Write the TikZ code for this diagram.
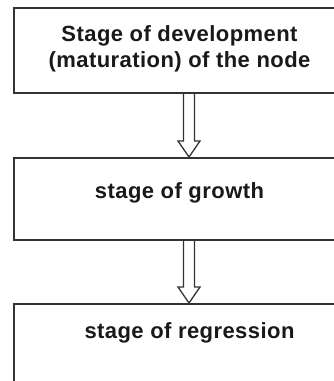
\documentclass[tikz,border=0pt]{standalone}
\usepackage{fontspec}
\setmainfont{Liberation Sans}
\usepackage{tikz}
\usetikzlibrary{positioning}
\usetikzlibrary{calc}
\definecolor{linegray}{rgb}{0.2,0.2,0.2}
\definecolor{textgray}{rgb}{0.1,0.1,0.1}

\tikzset{
  stagebox/.style={draw=linegray, line width=2pt, minimum width=331pt, inner sep=0pt},
  stagetext/.style={text=textgray, font=\bfseries\addfontfeature{LetterSpace=2}\fontsize{22}{26}\selectfont, align=center, inner sep=0pt},
  hollow/.style={draw=linegray, line width=1.3pt, fill=white}
}

\begin{document}
\begin{tikzpicture}[x=1pt,y=-1pt]
            \useasboundingbox (0,0) rectangle (334,381);
            \clip (0,0) rectangle (334,381);
            \node[stagebox, minimum height=85pt] (dev) at (179.5,50.5) {};
            \node[stagebox, minimum height=82pt, below=63pt of dev] (growth) {};
            \node[stagebox, minimum height=100pt, below=62pt of growth] (regr) {};
            \node[stagetext] (devtext) at ([yshift=2pt]dev.center) {Stage of development\\(maturation) of the node};
            \node[stagetext] (growthtext) at ([yshift=6pt]growth.center) {stage of growth};
            \node[stagetext] (regrtext) at ([yshift=-30pt,xshift=10pt]regr.north) {stage of regression};
            % hollow arrows between the stages
            \coordinate (a1) at ([xshift=9.5pt]dev.south);
            \coordinate (b1) at ([xshift=9.5pt]growth.north);
            \coordinate (a2) at ([xshift=9.5pt]growth.south);
            \coordinate (b2) at ([xshift=9.5pt]regr.north);
            \draw[hollow] ($(a1)+(-5.5,0)$) -- ($(b1)+(-5.5,-16)$) -- ($(b1)+(-11,-16)$) -- (b1)
                -- ($(b1)+(11,-16)$) -- ($(b1)+(5.5,-16)$) -- ($(a1)+(5.5,0)$);
            \draw[hollow] ($(a2)+(-5.5,0)$) -- ($(b2)+(-5.5,-16)$) -- ($(b2)+(-11,-16)$) -- (b2)
                -- ($(b2)+(11,-16)$) -- ($(b2)+(5.5,-16)$) -- ($(a2)+(5.5,0)$);
            \end{tikzpicture}
\end{document}
